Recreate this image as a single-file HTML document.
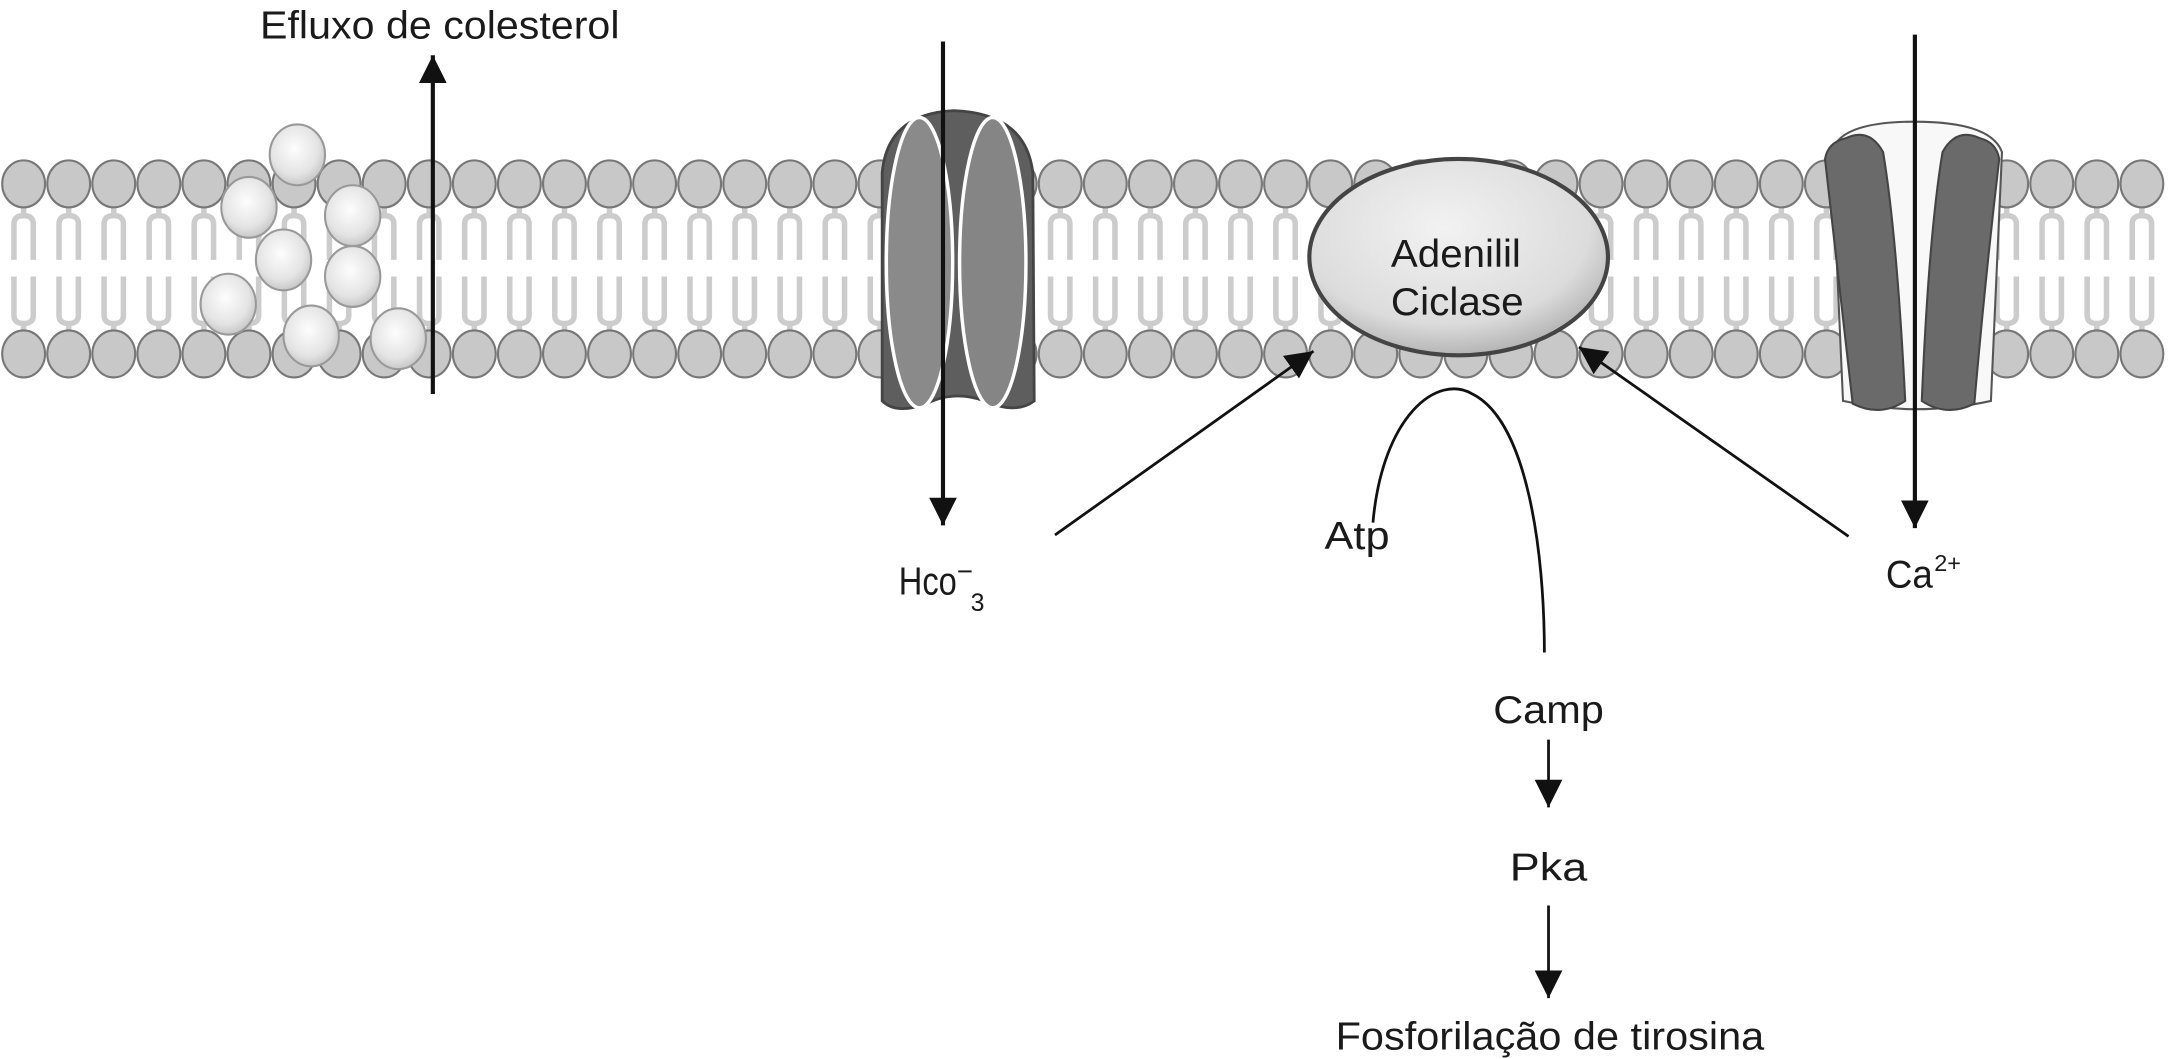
<!DOCTYPE html>
<html><head><meta charset="utf-8"><style>
html,body{margin:0;padding:0;background:#fff;overflow:hidden}
svg{display:block}
text{font-family:"Liberation Sans",sans-serif;fill:#1a1a1a}
</style></head><body>
<svg id="s" width="2168" height="1059" viewBox="0 0 1568 766" xmlns="http://www.w3.org/2000/svg">
<defs>
<radialGradient id="sph" cx="45%" cy="40%" r="60%"><stop offset="0" stop-color="#fdfdfd"/><stop offset="0.7" stop-color="#e4e4e4"/><stop offset="1" stop-color="#c8c8c8"/></radialGradient>
<radialGradient id="ac" cx="45%" cy="35%" r="65%"><stop offset="0" stop-color="#f2f2f2"/><stop offset="0.75" stop-color="#dcdcdc"/><stop offset="1" stop-color="#b5b5b5"/></radialGradient>
<marker id="ah" viewBox="0 0 10 10" refX="10" refY="5" markerWidth="20" markerHeight="20" markerUnits="userSpaceOnUse" orient="auto"><path d="M0,0 L10,5 L0,10 z" fill="#111"/></marker>
</defs>
<g id="lip"></g>
<g stroke="#999" stroke-width="1.5" fill="url(#sph)">
<ellipse cx="215" cy="112" rx="20" ry="22"/>
<ellipse cx="180" cy="150" rx="20" ry="22"/>
<ellipse cx="255" cy="156" rx="20" ry="22"/>
<ellipse cx="205" cy="188" rx="20" ry="22"/>
<ellipse cx="255" cy="200" rx="20" ry="22"/>
<ellipse cx="165" cy="220" rx="20" ry="22"/>
<ellipse cx="225" cy="243" rx="20" ry="22"/>
<ellipse cx="288" cy="245" rx="20" ry="22"/>
</g>
<g>
<path d="M638,125 Q642,82 690,80 Q742,82 747,125 L748,290 Q735,300 712,290 Q690,282 670,292 Q648,300 638,290 Z" fill="#5e5e5e" stroke="#444" stroke-width="2"/>
<ellipse cx="665" cy="190" rx="24" ry="105" fill="#8a8a8a" stroke="#fff" stroke-width="2.5"/>
<ellipse cx="718" cy="190" rx="24" ry="105" fill="#858585" stroke="#fff" stroke-width="2.5"/>
</g>
<g>
<path d="M1325,110 Q1330,88 1385,88 Q1440,88 1448,110 L1440,290 Q1385,302 1333,290 Z" fill="#f8f8f8" stroke="#555" stroke-width="1.5"/>
<path d="M1335,100 Q1352,92 1362,110 Q1372,170 1378,290 Q1360,302 1340,292 Q1330,200 1320,115 Q1322,103 1335,100 Z" fill="#6a6a6a" stroke="#444" stroke-width="1.5"/>
<path d="M1432,100 Q1415,92 1405,110 Q1395,170 1390,290 Q1408,302 1428,292 Q1436,200 1446,115 Q1444,103 1432,100 Z" fill="#6a6a6a" stroke="#444" stroke-width="1.5"/>
</g>
<ellipse cx="1055" cy="186" rx="108" ry="71" fill="url(#ac)" stroke="#444" stroke-width="3"/>
<text x="1006" y="193" font-size="28" textLength="94" lengthAdjust="spacingAndGlyphs">Adenilil</text>
<text x="1006" y="228" font-size="28" textLength="96" lengthAdjust="spacingAndGlyphs">Ciclase</text>
<g stroke="#111" fill="none">
<line x1="313" y1="285" x2="313" y2="40" stroke-width="3" marker-end="url(#ah)"/>
<line x1="682" y1="30" x2="682" y2="380" stroke-width="3" marker-end="url(#ah)"/>
<line x1="1385" y1="25" x2="1385" y2="382" stroke-width="3" marker-end="url(#ah)"/>
<line x1="763" y1="387" x2="950" y2="254" stroke-width="2" marker-end="url(#ah)"/>
<line x1="1337" y1="388" x2="1142" y2="251" stroke-width="2" marker-end="url(#ah)"/>
<path d="M993,378 C1000,300 1040,270 1065,285 C1105,305 1117,400 1117,472" stroke-width="2"/>
<line x1="1120" y1="535" x2="1120" y2="584" stroke-width="2" marker-end="url(#ah)"/>
<line x1="1120" y1="655" x2="1120" y2="722" stroke-width="2" marker-end="url(#ah)"/>
</g>
<text x="188" y="28" font-size="28" textLength="260" lengthAdjust="spacingAndGlyphs">Efluxo de colesterol</text>
<text x="650" y="430" font-size="28" textLength="42" lengthAdjust="spacingAndGlyphs">Hco</text>
<text x="692" y="420" font-size="20">−</text>
<text x="702" y="442" font-size="18">3</text>
<text x="958" y="397" font-size="28" textLength="47" lengthAdjust="spacingAndGlyphs">Atp</text>
<text x="1364" y="425" font-size="28" textLength="34" lengthAdjust="spacingAndGlyphs">Ca</text>
<text x="1399" y="413" font-size="17">2+</text>
<text x="1080" y="523" font-size="28" textLength="80" lengthAdjust="spacingAndGlyphs">Camp</text>
<text x="1092" y="637" font-size="28" textLength="56" lengthAdjust="spacingAndGlyphs">Pka</text>
<text x="966" y="759" font-size="28" textLength="310" lengthAdjust="spacingAndGlyphs">Fosforilação de tirosina</text>
</svg>
<script>
var g=document.getElementById('lip'),h='';
for(var i=0;i<48;i++){var x=17+i*32.6;
h+='<path d="M'+x+',148 L'+x+',156 M'+(x-7)+',188 L'+(x-7)+',162 Q'+(x-7)+',156 '+x+',156 Q'+(x+7)+',156 '+(x+7)+',162 L'+(x+7)+',188" stroke="#ccc" stroke-width="4" fill="none"/>';
h+='<path d="M'+x+',242 L'+x+',234 M'+(x-7)+',200 L'+(x-7)+',228 Q'+(x-7)+',234 '+x+',234 Q'+(x+7)+',234 '+(x+7)+',228 L'+(x+7)+',200" stroke="#ccc" stroke-width="4" fill="none"/>';
h+='<ellipse cx="'+x+'" cy="133" rx="15.5" ry="17" fill="#c8c8c8" stroke="#777" stroke-width="1.5"/>';
h+='<ellipse cx="'+x+'" cy="256" rx="15.5" ry="17" fill="#c8c8c8" stroke="#777" stroke-width="1.5"/>';}
g.innerHTML=h;
</script>
</body></html>
